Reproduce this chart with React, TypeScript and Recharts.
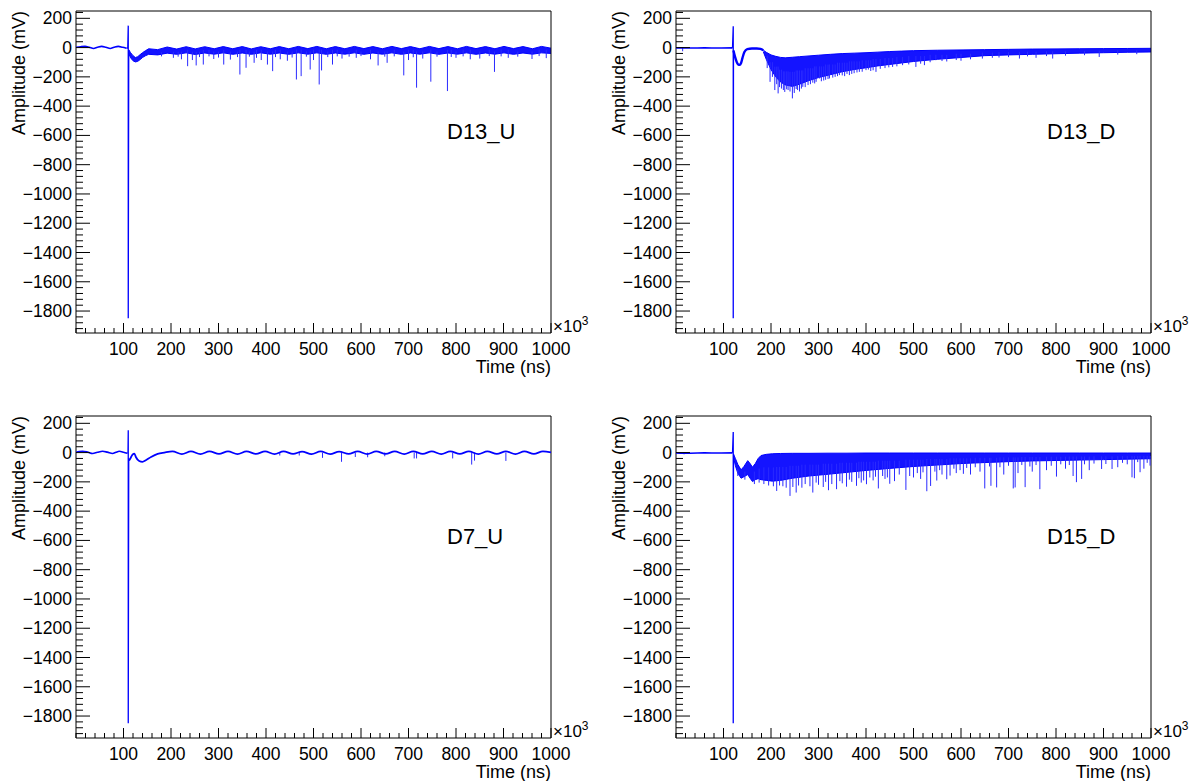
import React from 'react';
import { ComposedChart, Line, Area, XAxis, YAxis, ReferenceLine, ReferenceArea } from 'recharts';

const FONT = '"Liberation Sans", Arial, Helvetica, sans-serif';
const BLUE = '#0000ff';
const SPIKE = '#2a2aff';

const X_DOMAIN: [number, number] = [0, 1000];
const Y_DOMAIN: [number, number] = [-1950, 250];
const xMajorTicks = [100, 200, 300, 400, 500, 600, 700, 800, 900, 1000];
const yMajorTicks = [-1800, -1600, -1400, -1200, -1000, -800, -600, -400, -200, 0, 200];

// ---------- D13_U ----------
const u13PreT = [0, 10, 19, 28, 37, 45, 54, 63, 72, 80, 89, 98, 106];
const u13PreV = [2, 6, 8, 2, -6, 2, 8, 2, -6, 2, 8, 2, -4];
const u13TrigT = [106, 109, 110, 110, 111];
const u13TrigV = [-4, -2, 150, -1850, -15];
const u13BandT = [111, 115, 120, 125, 130, 135, 140, 146, 153, 172, 192, 212, 232, 251, 271, 291, 310, 330, 350, 369, 389, 409, 428, 448, 468, 488, 507, 527, 546, 566, 586, 606, 625, 645, 665, 685, 704, 724, 744, 764, 783, 803, 822, 842, 862, 882, 901, 921, 941, 961, 980, 1000];
const u13BandHi = [-15, -35, -55, -68, -62, -48, -35, -22, -8, -14, 4, -10, 6, -9, 6, -8, 7, -8, 7, -9, 6, -8, 7, -8, 8, -7, 8, -8, 7, -8, 8, -7, 7, -8, 8, -7, 7, -8, 8, -7, 7, -8, 8, -7, 7, -8, 8, -7, 7, -8, 8, -4];
const u13BandLo = [-40, -70, -90, -98, -94, -82, -68, -56, -46, -50, -38, -46, -36, -47, -37, -45, -36, -46, -37, -46, -36, -45, -37, -46, -36, -45, -36, -46, -37, -45, -36, -46, -37, -45, -36, -46, -37, -45, -36, -46, -37, -45, -36, -46, -37, -45, -36, -46, -37, -45, -36, -40];
const u13Spikes: [number, number][] = [
  [235, -127], [253, -122], [268, -116], [311, -116], [345, -184], [358, -138], [375, -104], [403, -116], [414, -161],
  [464, -218], [474, -195], [493, -150], [512, -252], [517, -156], [540, -116], [636, -122], [655, -104], [690, -190],
  [717, -274], [747, -233], [782, -297], [881, -166],
  [205, -70], [222, -80], [245, -85], [290, -78], [325, -82], [390, -85], [430, -80], [445, -90], [500, -85], [560, -75],
  [590, -70], [620, -80], [700, -85], [730, -75], [800, -70], [830, -80], [850, -75], [910, -70], [960, -78], [990, -72],
  [180, -60], [215, -62], [260, -65], [280, -60], [300, -68], [340, -65], [365, -62], [380, -70], [420, -65], [455, -68],
  [485, -62], [530, -65], [550, -60], [575, -62], [600, -58], [650, -62], [670, -60], [710, -66], [760, -62], [790, -64],
  [815, -60], [870, -58], [895, -60], [930, -62], [975, -58],
];

// ---------- D13_D ----------
const d13PreT = [0, 30, 60, 90, 119];
const d13PreV = [-2, -3, -2, -3, -2];
const d13TrigT = [119, 120.5, 120.5, 121];
const d13TrigV = [-2, 145, -1850, -20];
const d13PostT = [121, 124, 128, 131, 134, 137, 140, 144, 150, 160, 170, 178, 184];
const d13PostV = [-20, -60, -100, -115, -118, -105, -70, -30, -10, -6, -6, -9, -18];
const d13BandT = [184, 190, 200, 210, 220, 230, 245, 260, 280, 300, 325, 350, 375, 400, 425, 450, 475, 500, 550, 600, 650, 700, 750, 800, 850, 900, 950, 1000];
const d13BandHi = [-18, -32, -50, -60, -67, -70, -66, -62, -57, -52, -46, -41, -38, -35, -31, -27, -24, -21, -18, -16, -14, -12, -10, -9, -8, -7, -6, -5];
const d13BandLo = [-30, -80, -150, -200, -235, -255, -265, -250, -225, -205, -185, -165, -150, -138, -125, -115, -105, -95, -80, -68, -55, -50, -46, -42, -38, -35, -32, -30];
const d13Spikes: [number, number][] = [
  [14, -25], [198, -234], [208, -290], [215, -313], [222, -280], [229, -303], [236, -290], [245, -347], [253, -283], [260, -300],
  [267, -268], [278, -256], [288, -240], [295, -234], [302, -211], [315, -220], [323, -211], [335, -200], [344, -188],
  [355, -195], [365, -188], [375, -175], [386, -166], [400, -154], [410, -160], [421, -166], [440, -140], [456, -132],
  [477, -120], [505, -132], [523, -120], [547, -86], [570, -95], [600, -90], [645, -75], [666, -70], [723, -75],
  [758, -70], [793, -75], [891, -64],
  [192, -140], [203, -200], [212, -250], [218, -270], [226, -290], [233, -285], [240, -300], [249, -310], [256, -290],
  [264, -280], [272, -270], [283, -250], [292, -245], [306, -230], [311, -225], [320, -215], [330, -205], [340, -195],
  [350, -190], [360, -180], [370, -180], [381, -170], [392, -165], [405, -150], [415, -155], [430, -145], [448, -135],
  [465, -128], [490, -115], [515, -110], [535, -100], [560, -92], [590, -85], [620, -80], [680, -68], [700, -65],
  [740, -60], [780, -58], [820, -55], [860, -52], [930, -48], [970, -45],
];

// ---------- D7_U ----------
const u7PreT = [0, 7, 14, 24, 35, 45, 56, 66, 77, 84, 91, 100, 108];
const u7PreV = [2, 7, 9, 4, -6, 2, 9, 3, -6, 2, 9, 3, -5];
const u7TrigT = [108, 109.5, 110, 110, 111];
const u7TrigV = [-5, -3, 152, -1850, -40];
const u7PostT = [111, 112, 116, 119, 123, 126, 133, 140, 147, 158, 172, 186,
  203, 223, 242, 262, 281, 301, 320, 340, 359, 379, 398, 418, 437, 457, 476, 496, 515, 535, 554, 574, 593, 613, 632, 652, 671, 691,
  710, 730, 749, 769, 788, 808, 827, 847, 866, 886, 905, 925, 944, 964, 983, 1000];
const u7PostV = [-40, -52, -30, -14, -7, -30, -57, -63, -52, -30, -9, 0,
  8, -10, 8, -10, 8, -9, 8, -10, 8, -9, 8, -10, 8, -9, 7, -10, 8, -10, 7, -9, 8, -10, 8, -9, 8, -10,
  8, -9, 8, -10, 8, -9, 8, -10, 8, -9, 8, -10, 8, -9, 8, 2];
const u7Spikes: [number, number][] = [
  [429, -20], [470, -20], [519, -36], [559, -63], [588, -30], [614, -32], [650, -25], [712, -40], [717, -40],
  [793, -40], [833, -82], [839, -55], [905, -57],
];

// ---------- D15_D ----------
const d15PreT = [0, 30, 60, 90, 119];
const d15PreV = [-2, -4, -2, -3, -2];
const d15TrigT = [119, 120.5, 120.5, 121];
const d15TrigV = [-2, 140, -1850, -10];
const d15BandT = [121, 125, 130, 137, 143, 151, 156, 161, 167, 173, 179, 190, 203, 220, 245, 280, 320, 360, 400, 450, 500, 550, 600, 650, 700, 750, 800, 850, 900, 950, 1000];
const d15BandHi = [-10, -40, -80, -118, -95, -55, -75, -100, -75, -40, -20, -12, -8, -6, -5, -5, -4, -4, -3, -3, -3, -3, -3, -3, -3, -3, -3, -3, -3, -3, -3];
const d15BandLo = [-30, -90, -140, -175, -165, -150, -175, -198, -185, -178, -185, -190, -195, -190, -175, -160, -148, -135, -122, -108, -95, -85, -75, -68, -62, -57, -54, -51, -48, -45, -42];
const d15Spikes: [number, number][] = [
  [17, -12], [212, -262], [225, -230], [240, -296], [253, -273], [265, -240], [288, -273], [300, -220], [310, -235], [321, -257],
  [338, -250], [350, -210], [359, -233], [370, -200], [380, -227], [390, -205], [401, -216], [415, -190], [426, -245],
  [440, -180], [450, -213], [460, -195], [484, -255], [500, -170], [515, -180], [528, -264], [536, -228], [549, -191],
  [560, -150], [570, -182], [577, -157], [590, -140], [605, -145], [620, -150], [640, -130], [650, -245], [663, -227],
  [675, -238], [690, -150], [710, -245], [714, -238], [720, -140], [735, -236], [750, -130], [766, -250], [780, -120],
  [801, -164], [820, -110], [836, -160], [843, -202], [854, -180], [870, -120], [896, -112], [918, -112], [930, -100],
  [960, -169], [965, -175], [977, -134], [985, -110], [998, -89],
  [130, -160], [145, -185], [165, -215], [175, -205], [185, -215], [195, -225], [205, -230], [218, -225], [232, -240],
  [246, -235], [258, -225], [272, -215], [282, -230], [295, -205], [315, -200], [328, -215], [345, -195], [365, -185],
  [385, -175], [395, -190], [408, -170], [420, -165], [435, -160], [445, -170], [470, -150], [492, -160], [508, -140],
  [520, -135], [545, -130], [555, -120], [585, -110], [598, -120], [612, -105], [630, -100], [660, -95], [682, -100],
  [700, -90], [728, -85], [745, -95], [758, -85], [790, -90], [810, -80], [828, -85], [860, -80], [880, -75], [905, -78],
  [940, -70], [950, -80], [972, -65], [992, -70],
];

// tick lists (majors typed above, minors fill between them)
const xTicks: number[] = [];
for (let v = 0; v <= 1000; v += 20) xTicks.push(v);
const yTicks: number[] = [];
for (let v = -1920; v <= 240; v += 40) yTicks.push(v);

const fmt = (v: number) => (v < 0 ? '\u2212' + Math.abs(v) : String(v));

const XTick = (props: any) => {
  const { x, y, payload } = props;
  const v = payload.value;
  const major = xMajorTicks.includes(v);
  return (
    <g>
      <line x1={x} y1={y} x2={x} y2={y - (major ? 10 : 5)} stroke="#000" strokeWidth={1} />
      {major && (
        <text x={x} y={y + 22} textAnchor="middle" fontSize={17.5} fontFamily={FONT} fill="#000">
          {v}
        </text>
      )}
    </g>
  );
};

const YTick = (props: any) => {
  const { x, y, payload } = props;
  const v = payload.value;
  const major = yMajorTicks.includes(v);
  return (
    <g>
      <line x1={x} y1={y} x2={x + (major ? 14 : 7)} y2={y} stroke="#000" strokeWidth={1} />
      {major && (
        <text x={x - 4} y={y + 6} textAnchor="end" fontSize={17.5} fontFamily={FONT} fill="#000">
          {fmt(v)}
        </text>
      )}
    </g>
  );
};

type Band = { t: number[]; hi: number[]; lo: number[] };
type PanelProps = {
  left: number;
  top: number;
  name: string;
  preT: number[];
  preV: number[];
  trigT: number[];
  trigV: number[];
  postT?: number[];
  postV?: number[];
  postWidth?: number;
  band?: Band;
  spikes: [number, number][];
};

const W = 600;
const H = 390;
const PLOT_LEFT = 76;
const PLOT_RIGHT = 551;
const PLOT_TOP = 11;
const PLOT_BOTTOM = 333;

function spikeBase(t: number, band?: Band): number {
  if (!band || t < band.t[0]) return 0;
  let best = 0;
  for (let i = 1; i < band.t.length; i++) {
    if (Math.abs(band.t[i] - t) < Math.abs(band.t[best] - t)) best = i;
  }
  return (band.hi[best] + band.lo[best]) / 2;
}

const toPts = (ts: number[], vs: number[]) => ts.map((t, i) => ({ t, v: vs[i] }));

const Panel = ({ left, top, name, preT, preV, trigT, trigV, postT, postV, postWidth, band, spikes }: PanelProps) => {
  const bandData = band ? band.t.map((t, i) => ({ t, r: [band.lo[i], band.hi[i]] })) : [];
  return (
    <div style={{ position: 'absolute', left, top, width: W, height: H }}>
      <ComposedChart
        width={W}
        height={H}
        margin={{ top: PLOT_TOP, right: W - PLOT_RIGHT, bottom: 0, left: 0 }}
      >
        <XAxis
          dataKey="t"
          type="number"
          domain={X_DOMAIN}
          ticks={xTicks}
          interval={0}
          allowDataOverflow
          height={H - PLOT_BOTTOM}
          tickSize={0}
          tickMargin={0}
          axisLine={false}
          tickLine={false}
          tick={<XTick />}
        />
        <YAxis
          type="number"
          domain={Y_DOMAIN}
          ticks={yTicks}
          interval={0}
          allowDataOverflow
          width={PLOT_LEFT}
          tickSize={0}
          tickMargin={0}
          axisLine={false}
          tickLine={false}
          tick={<YTick />}
        />
        {band && (
          <Area
            data={bandData}
            dataKey="r"
            type="linear"
            stroke={BLUE}
            strokeWidth={1}
            fill={BLUE}
            fillOpacity={0.92}
            dot={false}
            activeDot={false}
            isAnimationActive={false}
          />
        )}
        {spikes.map(([t, v], i) => (
          <ReferenceLine
            key={'s' + i}
            segment={[
              { x: t, y: spikeBase(t, band) },
              { x: t, y: v },
            ]}
            stroke={SPIKE}
            strokeWidth={1}
          />
        ))}
        <Line
          data={toPts(preT, preV)}
          dataKey="v"
          type="monotoneX"
          stroke={BLUE}
          strokeWidth={1.6}
          dot={false}
          activeDot={false}
          isAnimationActive={false}
        />
        <Line
          data={toPts(trigT, trigV)}
          dataKey="v"
          type="linear"
          stroke={BLUE}
          strokeWidth={1.3}
          dot={false}
          activeDot={false}
          isAnimationActive={false}
        />
        {postT && postV && (
          <Line
            data={toPts(postT, postV)}
            dataKey="v"
            type="monotoneX"
            stroke={BLUE}
            strokeWidth={postWidth ?? 1.8}
            dot={false}
            activeDot={false}
            isAnimationActive={false}
          />
        )}
        <ReferenceArea
          x1={X_DOMAIN[0]}
          x2={X_DOMAIN[1]}
          y1={Y_DOMAIN[0]}
          y2={Y_DOMAIN[1]}
          fill="none"
          fillOpacity={0}
          stroke="#000"
          strokeWidth={1}
          ifOverflow="visible"
        />
      </ComposedChart>
      <svg
        width={W}
        height={H}
        style={{ position: 'absolute', left: 0, top: 0, pointerEvents: 'none' }}
      >
        <text
          x={25}
          y={PLOT_TOP}
          textAnchor="end"
          fontSize={18}
          fontFamily={FONT}
          fill="#000"
          transform={`rotate(-90, 25, ${PLOT_TOP})`}
        >
          Amplitude (mV)
        </text>
        <text x={PLOT_RIGHT} y={373} textAnchor="end" fontSize={18} fontFamily={FONT} fill="#000">
          Time (ns)
        </text>
        <text x={PLOT_RIGHT + 2} y={PLOT_BOTTOM - 1} fontSize={17} fontFamily={FONT} fill="#000">
          {'\u00d710'}
          <tspan dy={-7} fontSize={12}>3</tspan>
        </text>
        <text x={447} y={139} fontSize={22} fontFamily={FONT} fill="#000">
          {name}
        </text>
      </svg>
    </div>
  );
};

export default function App() {
  return (
    <div
      style={{
        position: 'absolute',
        left: 0,
        top: 0,
        width: 1199,
        height: 781,
        overflow: 'hidden',
        background: '#fff',
      }}
    >
      <Panel left={0} top={0} name="D13_U" preT={u13PreT} preV={u13PreV} trigT={u13TrigT} trigV={u13TrigV}
        band={{ t: u13BandT, hi: u13BandHi, lo: u13BandLo }} spikes={u13Spikes} />
      <Panel left={600} top={0} name="D13_D" preT={d13PreT} preV={d13PreV} trigT={d13TrigT} trigV={d13TrigV}
        postT={d13PostT} postV={d13PostV} postWidth={2.4}
        band={{ t: d13BandT, hi: d13BandHi, lo: d13BandLo }} spikes={d13Spikes} />
      <Panel left={0} top={405} name="D7_U" preT={u7PreT} preV={u7PreV} trigT={u7TrigT} trigV={u7TrigV}
        postT={u7PostT} postV={u7PostV} postWidth={1.8} spikes={u7Spikes} />
      <Panel left={600} top={405} name="D15_D" preT={d15PreT} preV={d15PreV} trigT={d15TrigT} trigV={d15TrigV}
        band={{ t: d15BandT, hi: d15BandHi, lo: d15BandLo }} spikes={d15Spikes} />
    </div>
  );
}
